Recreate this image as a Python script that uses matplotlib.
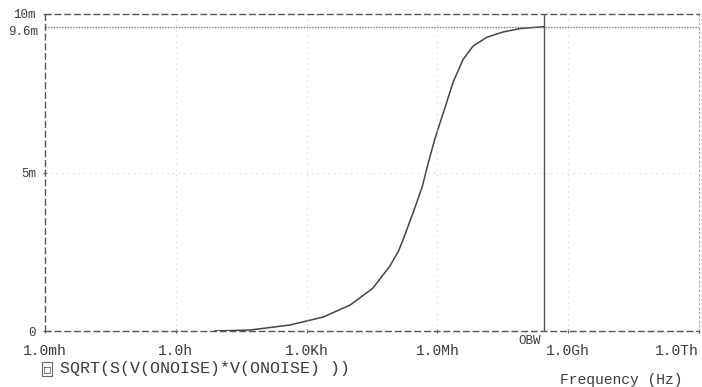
import matplotlib
matplotlib.use("Agg")
import matplotlib.pyplot as plt

# Data (log10 of frequency in Hz, noise in mV)
log_freq = [0.90, 1.70, 2.62, 3.38, 4.00, 4.52, 4.91, 5.10, 5.21, 5.44,
            5.65, 5.78, 5.94, 6.01, 6.17, 6.36, 6.59, 6.82, 7.14, 7.50,
            7.89, 8.35, 8.44]
noise_mv = [0.00, 0.03, 0.19, 0.44, 0.82, 1.35, 2.05, 2.50, 2.87, 3.72,
            4.54, 5.25, 6.05, 6.35, 7.03, 7.85, 8.57, 8.99, 9.27, 9.43,
            9.54, 9.59, 9.60]
xtick_exps = [-3, 0, 3, 6, 9, 12]
xtick_labels = ["1.0mh", "1.0h", "1.0Kh", "1.0Mh", "1.0Gh", "1.0Th"]
ytick_vals = [0, 5, 10]
ytick_labels = ["0", "5m", "10m"]
cursor_logf = 8.44
cursor_val = 9.6
cursor_label = "9.6m"
cursor_name = "OBW"
legend_text = "SQRT(S(V(ONOISE)*V(ONOISE) ))"
xlabel = "Frequency (Hz)"

mono = ["Liberation Mono", "DejaVu Sans Mono"]
fc = "#555555"
tc = "#3a3a3a"

fig = plt.figure(figsize=(7.02, 3.87), dpi=100)
ax = fig.add_axes([45/702, 1-331/387, (699-45)/702, (331-14)/387])

freq = [10**v for v in log_freq]
ax.plot(freq, noise_mv, color="#444444", lw=1.1)

ax.set_xscale("log")
ax.set_xlim(1e-3, 1e12)
ax.set_ylim(0, 10)

ax.set_xticks([10.0**e for e in xtick_exps])
ax.set_xticklabels(xtick_labels, family=mono, fontsize=10.5, color=tc)
ax.xaxis.set_minor_locator(matplotlib.ticker.NullLocator())
ax.set_yticks(ytick_vals)
ax.set_yticklabels(ytick_labels, family=mono, fontsize=9, color=tc)
ax.tick_params(axis="both", length=3, width=0.8, color=fc, direction="inout")
ax.tick_params(axis="x", pad=8)
ax.tick_params(axis="y", pad=5)
ax.get_xticklabels()[-1].set_horizontalalignment("right")

# faint dotted grid
for e in xtick_exps[1:-1]:
    ax.axvline(10.0**e, color="#d4d4d4", lw=0.8, ls=(0, (1, 4)))
ax.axhline(5, color="#d4d4d4", lw=0.8, ls=(0, (1, 4)))

for s in ["top", "bottom", "left"]:
    ax.spines[s].set_linestyle((0, (4, 3)))
    ax.spines[s].set_color(fc)
    ax.spines[s].set_linewidth(1.0)
ax.spines["right"].set_linestyle((0, (1, 3)))
ax.spines["right"].set_color("#999999")

# cursor lines
ax.axhline(cursor_val, color="#777777", lw=1.0, ls=(0, (1, 1)))
ax.axvline(10**cursor_logf, color="#555555", lw=1.0)
ax.annotate(cursor_label, xy=(0, cursor_val), xycoords=ax.get_yaxis_transform(),
            xytext=(-5, 0.5), textcoords="offset points",
            ha="right", va="top", family=mono, fontsize=9, color=tc)
ax.text(10**cursor_logf * 0.85, -0.3, cursor_name, ha="right", va="center",
        family=mono, fontsize=9, color=tc)

# legend and axis label
fig.text(44/702, 1-369/387, "\u25a1", family=["DejaVu Sans Mono"], fontsize=8,
         ha="left", va="center", color="#444444",
         bbox=dict(boxstyle="square,pad=0.15", fc="white", ec="#666666", lw=0.8))
fig.text(60/702, 1-369/387, legend_text, family=mono, fontsize=12,
         ha="left", va="center", color=tc)
fig.text(621/702, 1-380/387, xlabel, family=mono, fontsize=10.5,
         ha="center", va="center", color=tc)

fig.savefig("out.png", dpi=100)
